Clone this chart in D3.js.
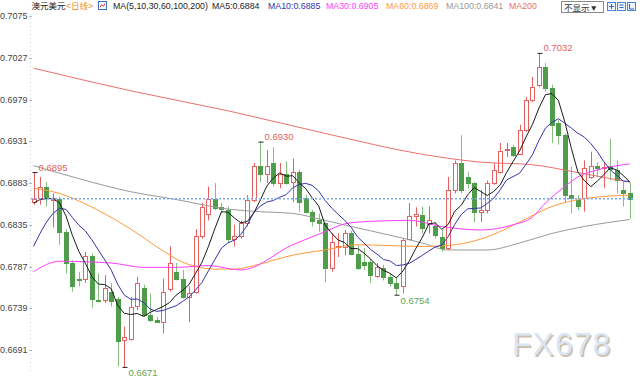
<!DOCTYPE html>
<html>
<head>
<meta charset="utf-8">
<title>澳元美元 日线</title>
<script src="https://cdn.jsdelivr.net/npm/d3@7/dist/d3.min.js"></script>
<style>
    html, body { margin: 0; padding: 0; background: #fff; }
    svg { display: block; font-family: "Liberation Sans", Arial, "Noto Sans CJK SC", sans-serif; }
</style>
</head>
<body>
<svg id="chart" width="640" height="380"></svg>
<script>
(function () {
    'use strict';

    // daily AUD/USD candles, oldest first
    var opens = [
        0.6861, 0.6865, 0.6878, 0.6864, 0.6865, 0.6827, 0.6791, 0.6773, 0.6773, 0.6799,
        0.6749, 0.6748, 0.6758, 0.6750, 0.6702, 0.6704, 0.6741, 0.6762, 0.6731, 0.6725,
        0.6723, 0.6761, 0.6781, 0.6773, 0.6752, 0.6758, 0.6822, 0.6848, 0.6865, 0.6855,
        0.6852, 0.6819, 0.6822, 0.6837, 0.6863, 0.6902, 0.6893, 0.6906, 0.6883, 0.6893,
        0.6884, 0.6896, 0.6866, 0.6850, 0.6840, 0.6837, 0.6785, 0.6809, 0.6810, 0.6826,
        0.6801, 0.6792, 0.6792, 0.6777, 0.6785, 0.6775, 0.6768, 0.6764, 0.6819, 0.6845,
        0.6846, 0.6835, 0.6833, 0.6821, 0.6808, 0.6875, 0.6906, 0.6890, 0.6883, 0.6850,
        0.6852, 0.6883, 0.6896, 0.6921, 0.6924, 0.6916, 0.6944, 0.6978, 0.6995, 0.7016,
        0.6992, 0.6952, 0.6938, 0.6869, 0.6864, 0.6865, 0.6890, 0.6903, 0.6900, 0.6902,
        0.6898, 0.6875, 0.6872
    ];
    var highs = [
        0.6895, 0.6890, 0.6884, 0.6871, 0.6867, 0.6830, 0.6794, 0.6781, 0.6804, 0.6802,
        0.6779, 0.6777, 0.6768, 0.6752, 0.6718, 0.6752, 0.6775, 0.6766, 0.6756, 0.6729,
        0.6773, 0.6810, 0.6791, 0.6783, 0.6764, 0.6830, 0.6860, 0.6879, 0.6883, 0.6860,
        0.6856, 0.6835, 0.6840, 0.6869, 0.6906, 0.6930, 0.6921, 0.6924, 0.6906, 0.6908,
        0.6911, 0.6898, 0.6869, 0.6852, 0.6848, 0.6838, 0.6825, 0.6825, 0.6829, 0.6828,
        0.6812, 0.6808, 0.6796, 0.6791, 0.6789, 0.6779, 0.6775, 0.6819, 0.6860, 0.6855,
        0.6856, 0.6856, 0.6838, 0.6829, 0.6890, 0.6909, 0.6938, 0.6896, 0.6884, 0.6875,
        0.6886, 0.6906, 0.6929, 0.6929, 0.6927, 0.6950, 0.6982, 0.7005, 0.7032, 0.7021,
        0.6996, 0.6955, 0.6940, 0.6902, 0.6869, 0.6909, 0.6919, 0.6907, 0.6907, 0.6934,
        0.6909, 0.6884, 0.6884
    ];
    var lows = [
        0.6858, 0.6858, 0.6856, 0.6832, 0.6812, 0.6779, 0.6758, 0.6764, 0.6768, 0.6739,
        0.6746, 0.6745, 0.6741, 0.6672, 0.6671, 0.6702, 0.6737, 0.6729, 0.6723, 0.6722,
        0.6710, 0.6758, 0.6771, 0.6750, 0.6723, 0.6756, 0.6819, 0.6840, 0.6852, 0.6848,
        0.6815, 0.6810, 0.6819, 0.6833, 0.6861, 0.6884, 0.6883, 0.6879, 0.6877, 0.6881,
        0.6861, 0.6850, 0.6848, 0.6833, 0.6827, 0.6769, 0.6781, 0.6798, 0.6800, 0.6800,
        0.6783, 0.6783, 0.6768, 0.6774, 0.6771, 0.6764, 0.6754, 0.6756, 0.6817, 0.6833,
        0.6825, 0.6825, 0.6819, 0.6804, 0.6806, 0.6871, 0.6871, 0.6877, 0.6838, 0.6838,
        0.6848, 0.6881, 0.6894, 0.6913, 0.6913, 0.6915, 0.6942, 0.6976, 0.6993, 0.6988,
        0.6929, 0.6927, 0.6860, 0.6848, 0.6852, 0.6850, 0.6888, 0.6890, 0.6877, 0.6886,
        0.6871, 0.6856, 0.6842
    ];
    var closes = [
        0.6865, 0.6878, 0.6865, 0.6866, 0.6827, 0.6791, 0.6765, 0.6772, 0.6799, 0.6750,
        0.6748, 0.6762, 0.6748, 0.6702, 0.6706, 0.6741, 0.6768, 0.6731, 0.6725, 0.6723,
        0.6758, 0.6791, 0.6773, 0.6752, 0.6757, 0.6822, 0.6855, 0.6865, 0.6855, 0.6853,
        0.6819, 0.6822, 0.6837, 0.6863, 0.6902, 0.6893, 0.6902, 0.6883, 0.6893, 0.6883,
        0.6896, 0.6861, 0.6850, 0.6840, 0.6837, 0.6785, 0.6815, 0.6810, 0.6826, 0.6802,
        0.6785, 0.6789, 0.6777, 0.6787, 0.6775, 0.6768, 0.6762, 0.6817, 0.6845, 0.6847,
        0.6831, 0.6840, 0.6823, 0.6808, 0.6875, 0.6906, 0.6875, 0.6883, 0.6850, 0.6852,
        0.6883, 0.6898, 0.6920, 0.6922, 0.6915, 0.6944, 0.6978, 0.6993, 0.7016, 0.6992,
        0.6950, 0.6938, 0.6869, 0.6865, 0.6857, 0.6900, 0.6903, 0.6901, 0.6901, 0.6898,
        0.6887, 0.6871, 0.6865
    ];

    // closes before the first visible day, only feed MA5 / MA10
    var priorCloses = [0.6728, 0.6735, 0.6766, 0.6767, 0.6804, 0.6858, 0.6860, 0.6866, 0.6851];

    // slow averages as [day index, value]
    var ma30 = [
        [0, 0.6781], [4, 0.6793], [12, 0.6791], [17, 0.6786], [22, 0.6786], [27, 0.6788],
        [32, 0.6783], [40, 0.6812], [45, 0.6827], [48, 0.6836], [50, 0.6838], [58, 0.6840],
        [63, 0.6833], [69, 0.6829], [74, 0.6835], [77, 0.6844], [79, 0.6860], [82, 0.6879],
        [84, 0.6890], [87, 0.6898], [92, 0.6905]
    ];
    var ma60 = [
        [0, 0.6877], [4, 0.6871], [8, 0.6859], [15, 0.6830], [20, 0.6805], [23, 0.6792],
        [25, 0.6787], [28, 0.6784], [31, 0.6784], [35, 0.6790], [40, 0.6800], [45, 0.6806],
        [50, 0.6812], [60, 0.6810], [65, 0.6812], [70, 0.6821], [75, 0.6838], [80, 0.6856],
        [85, 0.6865], [92, 0.6869]
    ];
    var ma100 = [
        [0, 0.6903], [7, 0.6888], [15, 0.6873], [22, 0.6864], [30, 0.6853], [35, 0.6850],
        [40, 0.6848], [45, 0.6840], [49, 0.6833], [55, 0.6823], [60, 0.6814], [64, 0.6806],
        [70, 0.6806], [75, 0.6814], [80, 0.6825], [85, 0.6833], [92, 0.6841]
    ];
    var ma200 = [
        [0, 0.7015], [15, 0.6989], [30, 0.6966], [45, 0.6940], [60, 0.6916], [69, 0.6907],
        [77, 0.6904], [84, 0.6895], [92, 0.6884]
    ];

    var yTicks = [0.7075, 0.7027, 0.6979, 0.6931, 0.6883, 0.6835, 0.6787, 0.6739, 0.6691];

    // days whose high / low carries a price tag
    var highMarks = [0, 35, 78];
    var lowMarks = [14, 56];

    var colors = {
        up: '#e8605f',
        down: '#4f9c4a',
        downWick: '#86bd7f',
        ma5: '#1a1a1a',
        ma10: '#3434a8',
        ma30: '#ff3cff',
        ma60: '#ff9a3c',
        ma100: '#9a9a9a',
        ma200: '#ea6f6c',
        last: '#76aaf5'
    };

    var fmt = d3.format('.4f'),
        svg = d3.select('#chart'),
        last = closes.length - 1;

    var x = d3.scaleLinear().domain([0, last]).range([33.5, 629.7]);
    var y = d3.scaleLinear().domain([0.6691, 0.7075]).range([350, 16]);

    function px(i) {
        return Math.round(x(i)) + 0.5;
    }

    function movingAverage(period) {
        var all = priorCloses.concat(closes),
            k = priorCloses.length;

        return closes.map(function (c, i) {
            return d3.mean(all.slice(k + i - period + 1, k + i + 1));
        });
    }

    var ma5 = movingAverage(5),
        ma10 = movingAverage(10);

    // left axis: dotted rule, small ticks, labels
    var axis = svg.append('g').attr('class', 'axis');

    axis.append('line')
        .attr('x1', 30.5).attr('x2', 30.5)
        .attr('y1', 14).attr('y2', 372)
        .attr('stroke', '#c4d2e6')
        .attr('stroke-dasharray', '1,3');

    axis.selectAll('line.tick')
        .data(yTicks)
        .enter()
        .append('line')
        .attr('class', 'tick')
        .attr('x1', 29).attr('x2', 32)
        .attr('y1', function (d) { return Math.round(y(d)) + 0.5; })
        .attr('y2', function (d) { return Math.round(y(d)) + 0.5; })
        .attr('stroke', '#aab8cc');

    axis.selectAll('text')
        .data(yTicks)
        .enter()
        .append('text')
        .attr('x', 27.5)
        .attr('y', function (d) { return y(d) + 3.2; })
        .attr('text-anchor', 'end')
        .attr('font-size', 9)
        .attr('fill', '#444')
        .text(fmt);

    // candles
    var days = closes.map(function (c, i) {
        return { i: i, o: opens[i], h: highs[i], l: lows[i], c: c, up: c >= opens[i] };
    });

    var candle = svg.append('g')
        .selectAll('g')
        .data(days)
        .enter()
        .append('g');

    candle.append('line')
        .attr('x1', function (d) { return px(d.i); })
        .attr('x2', function (d) { return px(d.i); })
        .attr('y1', function (d) { return y(d.h); })
        .attr('y2', function (d) { return y(d.l); })
        .attr('stroke', function (d) { return d.up ? colors.up : colors.downWick; });

    candle.append('rect')
        .attr('x', function (d) { return px(d.i) - 2; })
        .attr('width', 4)
        .attr('y', function (d) { return Math.round(y(Math.max(d.o, d.c))) + 0.5; })
        .attr('height', function (d) {
            return Math.max(1, Math.round(Math.abs(y(d.o) - y(d.c))));
        })
        .attr('fill', function (d) { return d.up ? '#fff' : colors.down; })
        .attr('stroke', function (d) { return d.up ? colors.up : colors.down; });

    // moving averages
    var denseLine = d3.line()
        .x(function (d, i) { return x(i); })
        .y(function (d) { return y(d); });

    var sparseLine = d3.line()
        .x(function (d) { return x(d[0]); })
        .y(function (d) { return y(d[1]); })
        .curve(d3.curveMonotoneX);

    var lines = svg.append('g').attr('fill', 'none').attr('stroke-width', 1);

    [[ma200, colors.ma200], [ma100, colors.ma100], [ma60, colors.ma60], [ma30, colors.ma30]]
        .forEach(function (s) {
            lines.append('path').attr('d', sparseLine(s[0])).attr('stroke', s[1]);
        });

    lines.append('path').attr('d', denseLine(ma10)).attr('stroke', colors.ma10);
    lines.append('path').attr('d', denseLine(ma5)).attr('stroke', colors.ma5);

    // last price
    svg.append('line')
        .attr('x1', 31).attr('x2', 633)
        .attr('y1', y(closes[last])).attr('y2', y(closes[last]))
        .attr('stroke', colors.last)
        .attr('stroke-width', 1.5)
        .attr('stroke-dasharray', '2,2');

    // high / low tags
    var tags = svg.append('g').attr('font-size', 9.5);

    highMarks.forEach(function (i) {
        tags.append('line')
            .attr('x1', px(i) - 2).attr('x2', px(i) + 3)
            .attr('y1', y(highs[i])).attr('y2', y(highs[i]))
            .attr('stroke', '#222');
        tags.append('text')
            .attr('x', px(i) + 4)
            .attr('y', y(highs[i]) - 2)
            .attr('fill', '#e8605f')
            .text(fmt(highs[i]));
    });

    lowMarks.forEach(function (i) {
        tags.append('line')
            .attr('x1', px(i) - 2).attr('x2', px(i) + 3)
            .attr('y1', y(lows[i])).attr('y2', y(lows[i]))
            .attr('stroke', '#222');
        tags.append('text')
            .attr('x', px(i) + 4)
            .attr('y', y(lows[i]) + 9)
            .attr('fill', '#5fa653')
            .text(fmt(lows[i]));
    });

    // watermark
    var mark = svg.append('g')
        .attr('font-size', 32)
        .attr('letter-spacing', 1);

    mark.append('text').attr('x', 513.5).attr('y', 356.5).attr('fill', '#cdbfae').text('FX678');
    mark.append('text').attr('x', 512).attr('y', 355).attr('fill', '#dbe6f4').text('FX678');

    // header: title, then the averages legend
    var header = [
        { x: 31.5, size: 8.5, text: '澳元美元', fill: '#222' },
        { x: 66, size: 8.5, text: '<日线>', fill: '#f08a1c' },
        { x: 113, size: 8.8, text: 'MA(5,10,30,60,100,200)', fill: '#222' },
        { x: 212, size: 8.8, text: 'MA5:' + fmt(ma5[last]), fill: colors.ma5 },
        { x: 268, size: 8.8, text: 'MA10:' + fmt(ma10[last]), fill: colors.ma10 },
        { x: 326, size: 8.8, text: 'MA30:' + fmt(ma30[ma30.length - 1][1]), fill: colors.ma30 },
        { x: 386, size: 8.8, text: 'MA60:' + fmt(ma60[ma60.length - 1][1]), fill: colors.ma60 },
        { x: 446, size: 8.8, text: 'MA100:' + fmt(ma100[ma100.length - 1][1]), fill: colors.ma100 },
        { x: 509, size: 8.8, text: 'MA200', fill: colors.ma200 }
    ];

    svg.append('g')
        .selectAll('text')
        .data(header)
        .enter()
        .append('text')
        .attr('x', function (d) { return d.x; })
        .attr('y', 8.5)
        .attr('font-size', function (d) { return d.size; })
        .attr('fill', function (d) { return d.fill; })
        .text(function (d) { return d.text; });

    // little settings icon after the title
    var icon = svg.append('g').attr('transform', 'translate(98.5,1.5)');
    icon.append('rect').attr('width', 8).attr('height', 8).attr('fill', '#fff').attr('stroke', '#3b6fc9');
    icon.append('path').attr('d', 'M1.5,6 L3,3 L5,5 L6.5,2').attr('fill', 'none').attr('stroke', '#e04a4a');

    // "不显示" dropdown and toolbar buttons
    var tools = svg.append('g');

    tools.append('rect')
        .attr('x', 561.5).attr('y', 1.5)
        .attr('width', 42).attr('height', 11)
        .attr('fill', '#fff')
        .attr('stroke', '#8a8a8a');
    tools.append('text')
        .attr('x', 564).attr('y', 10.5)
        .attr('font-size', 8.5)
        .attr('fill', '#333')
        .text('不显示▼');

    [607.5, 617.5, 627.5].forEach(function (bx, k) {
        tools.append('rect')
            .attr('x', bx).attr('y', 2.5)
            .attr('width', 8).attr('height', 8)
            .attr('fill', '#eaf2fd')
            .attr('stroke', '#4a86d8');
        tools.append('path')
            .attr('d', k === 0 ? 'M' + (bx + 4) + ',4V9M' + (bx + 1.5) + ',6.5H' + (bx + 6.5)
                : k === 1 ? 'M' + (bx + 2) + ',5H' + (bx + 6) + 'M' + (bx + 2) + ',7.5H' + (bx + 6)
                    : 'M' + (bx + 2) + ',4V9H' + (bx + 6.5))
            .attr('fill', 'none')
            .attr('stroke', '#2f66c0');
    });
}());
</script>
</body>
</html>
